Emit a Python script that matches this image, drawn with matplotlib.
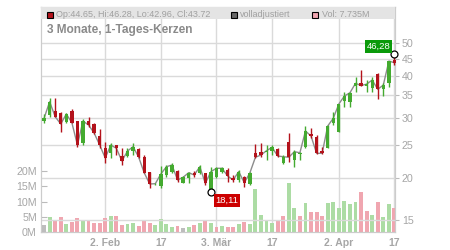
import numpy as np
import matplotlib.pyplot as plt
from matplotlib.patches import Rectangle
from matplotlib.ticker import NullLocator

plt.rcParams['font.family'] = ['Liberation Sans', 'DejaVu Sans']

# daily candles, 3 months
opens = [29.47, 30.64, 31.48, 31.06, 29.27, 31.55, 29.41, 25.27, 29.41, 28.82,
         26.56, 24.48, 23.66, 24.98, 23.18, 23.23, 24.03, 24.31, 23.07, 20.79,
         19.10, 18.90, 20.37, 20.84, 20.93, 19.33, 19.92, 20.69, 20.69, 20.61,
         18.39, 20.14, 20.84, 21.08, 20.00, 19.69, 20.05, 19.10, 23.61, 23.77,
         23.77, 24.03, 24.26, 22.06, 25.50, 22.56, 23.50, 24.60, 26.93, 26.43,
         24.03, 24.53, 29.08, 27.35, 33.77, 33.54, 37.30, 38.02, 37.40, 36.74,
         40.50, 36.49, 38.02, 44.65]
highs = [30.85, 34.39, 34.39, 31.27, 31.10, 31.92, 29.50, 29.75, 30.29, 28.95,
         27.86, 25.50, 25.27, 25.00, 24.48, 24.43, 25.40, 24.53, 23.34, 20.84,
         19.30, 21.70, 21.80, 22.15, 21.08, 20.23, 20.84, 20.95, 21.80, 20.69,
         21.55, 21.55, 21.55, 21.32, 20.37, 21.08, 20.23, 20.75, 25.10, 25.27,
         24.98, 24.90, 24.43, 23.34, 27.16, 24.10, 23.87, 28.43, 27.98, 26.75,
         24.70, 28.62, 31.33, 33.10, 35.90, 35.90, 39.75, 41.61, 38.87, 39.75,
         40.85, 38.02, 44.30, 46.28]
lows = [29.02, 30.29, 30.20, 27.35, 28.95, 28.95, 24.69, 24.98, 28.29, 26.93,
        24.48, 22.15, 22.82, 23.30, 21.80, 23.07, 23.40, 22.82, 20.61, 18.70,
        19.00, 18.65, 20.14, 20.61, 19.47, 19.25, 19.25, 20.05, 20.51, 19.03,
        18.11, 19.92, 20.61, 19.47, 19.47, 19.47, 18.77, 19.05, 22.82, 23.07,
        22.56, 23.40, 22.98, 21.90, 22.30, 21.46, 22.56, 24.43, 26.15, 23.45,
        23.45, 24.40, 28.62, 27.35, 32.29, 32.29, 35.90, 37.32, 35.90, 35.90,
        34.09, 34.94, 36.99, 42.96]
closes = [29.96, 33.54, 30.29, 28.82, 30.85, 29.08, 24.98, 29.41, 28.62, 27.11,
          24.98, 22.87, 24.98, 24.43, 22.40, 23.98, 24.69, 23.02, 20.69, 19.16,
          19.20, 20.51, 21.55, 21.80, 19.69, 20.05, 20.69, 20.37, 21.55, 19.25,
          20.84, 21.32, 21.32, 20.23, 19.69, 20.84, 19.33, 20.65, 22.98, 23.34,
          24.03, 24.60, 23.18, 23.07, 22.98, 23.87, 23.70, 27.48, 26.56, 23.61,
          23.61, 28.43, 29.96, 33.02, 34.87, 35.66, 38.00, 37.45, 37.80, 38.87,
          36.49, 37.57, 44.24, 43.72]
# volume in millions, direction u/d/n (up, down, unchanged)
volumes = [2.3, 4.9, 3.9, 4.9, 2.6, 3.3, 4.6, 3.9, 3.6, 3.0,
           3.0, 4.6, 5.2, 5.2, 2.3, 2.6, 3.0, 2.0, 3.6, 3.0,
           2.3, 4.3, 2.6, 1.6, 2.0, 1.3, 1.6, 2.3, 3.0, 3.6,
           3.0, 1.6, 2.0, 1.6, 1.6, 2.6, 3.3, 2.6, 14.1, 5.6,
           3.6, 3.0, 3.6, 5.2, 16.1, 7.9, 5.2, 9.5, 6.6, 6.6,
           5.2, 9.5, 9.8, 7.9, 10.2, 9.2, 9.8, 13.1, 6.9, 5.6,
           9.8, 4.9, 9.2, 7.735]
vol_dir = ("nudduddudd" "ddudduuddd" "uuuudnudud" "ududduduuu"
           "uudduududd" "duuuuuuddu" "duud")

tick_pos = [11, 21, 31, 41, 53, 63]
tick_labels = ['2. Feb', '17', '3. Mär', '17', '2. Apr', '17']
price_ticks = [15, 20, 25, 30, 35, 40, 45, 50]
vol_ticks = [0, 5, 10, 15, 20]

W, H = 450, 250
up_c, down_c = '#44aa30', '#b3121b'
vol_c = {'u': '#acdca4', 'd': '#f0a6b0', 'n': '#bdbdbd'}
grid_c = '#dadada'
txt_c = '#a6a6a6'

fig = plt.figure(figsize=(4.5, 2.5), dpi=100)
ax = fig.add_axes([41/W, 1-232/H, 354/W, 225/H])
axp = ax.twinx()

x = np.arange(len(closes))

# volume
ax.bar(x, volumes, width=0.7, color=[vol_c[d] for d in vol_dir], zorder=2)
ax.set_ylim(0, 225/3.05)
ax.set_yticks(vol_ticks)
ax.set_yticklabels([f'{v}M' for v in vol_ticks])
ax.tick_params(axis='y', direction='in', length=4, color='#bbbbbb',
               labelcolor=txt_c, labelsize=7.7, pad=3)
ax.set_xlim(-0.55, 63.1)
ax.set_xticks(tick_pos)
ax.set_xticklabels(tick_labels, fontweight='bold')
ax.tick_params(axis='x', length=0, labelcolor=txt_c, labelsize=7.5, pad=4)
ax.grid(axis='x', color=grid_c, lw=1, zorder=0)
ax.set_axisbelow(True)

# price (log)
axp.set_yscale('log')
axp.set_ylim(13.82, 63.9)
axp.set_yticks(price_ticks)
axp.set_yticklabels([str(p) for p in price_ticks])
axp.yaxis.set_minor_locator(NullLocator())
axp.tick_params(axis='y', direction='out', length=3, color='#bbbbbb',
                labelcolor=txt_c, labelsize=7.7, pad=2)
axp.grid(axis='y', color=grid_c, lw=1, zorder=0)

for a in (ax, axp):
    for s in a.spines.values():
        s.set_color('#cccccc')

axp.plot(x, closes, color='#8c8c8c', lw=1, zorder=3)
for i in x:
    o, h, l, c = opens[i], highs[i], lows[i], closes[i]
    col = up_c if c >= o else down_c
    axp.vlines(i, l, h, color=col, lw=1, zorder=4, clip_on=False)
    lo, hi = min(o, c), max(o, c)
    hi = max(hi, lo * 1.006)
    axp.bar(i, hi - lo, bottom=lo, width=0.6, color=col, zorder=5, clip_on=False)

# high / low markers
i_hi = int(np.argmax(highs))
i_lo = int(np.argmin(lows))
for i, v in [(i_hi, highs[i_hi]), (i_lo, lows[i_lo])]:
    axp.plot(i, v, 'o', ms=5, mfc='white', mec='black', mew=0.9, zorder=6, clip_on=False)
axp.annotate(f'{highs[i_hi]:.2f}'.replace('.', ','), (i_hi, highs[i_hi]),
             xytext=(-16, 8), textcoords='offset pixels', ha='center', va='center',
             color='white', fontsize=6.8, zorder=7,
             bbox=dict(boxstyle='square,pad=0.2', fc='#0a9a0a', ec='none'))
axp.annotate(f'{lows[i_lo]:.2f}'.replace('.', ','), (i_lo, lows[i_lo]),
             xytext=(16, -8), textcoords='offset pixels', ha='center', va='center',
             color='white', fontsize=6.8, zorder=7,
             bbox=dict(boxstyle='square,pad=0.2', fc='#cc0000', ec='none'))

# header bar with legend
axp.add_patch(Rectangle((0, 1-12/225), 1, 12/225, transform=axp.transAxes,
                        fc='#e4e4e4', ec='none', zorder=8, clip_on=False))
for px, fc in [(46.5, down_c), (231, '#666666'), (312, '#f0a6b0')]:
    fig.patches.append(Rectangle((px/W, 1-17.5/H), 6/W, 6/H, transform=fig.transFigure,
                                 fc=fc, ec='black', lw=0.8, zorder=9))
hdr = f'Op:{opens[-1]:.2f}, Hi:{highs[-1]:.2f}, Lo:{lows[-1]:.2f}, Cl:{closes[-1]:.2f}'
fig.text(56/W, 1-14.5/H, hdr, color='#a0a0a0', fontsize=6.5, va='center', zorder=10)
fig.text(240/W, 1-14.5/H, 'volladjustiert', color='#a0a0a0', fontsize=6.5, va='center', zorder=10)
fig.text(322/W, 1-14.5/H, f'Vol: {volumes[-1]}M', color='#a0a0a0', fontsize=6.5, va='center', zorder=10)
fig.text(47/W, 1-29.5/H, '3 Monate, 1-Tages-Kerzen', color='#8a8a8a', fontsize=8.6,
         fontweight='bold', va='center', zorder=10)

fig.savefig('out.png', dpi=100)
